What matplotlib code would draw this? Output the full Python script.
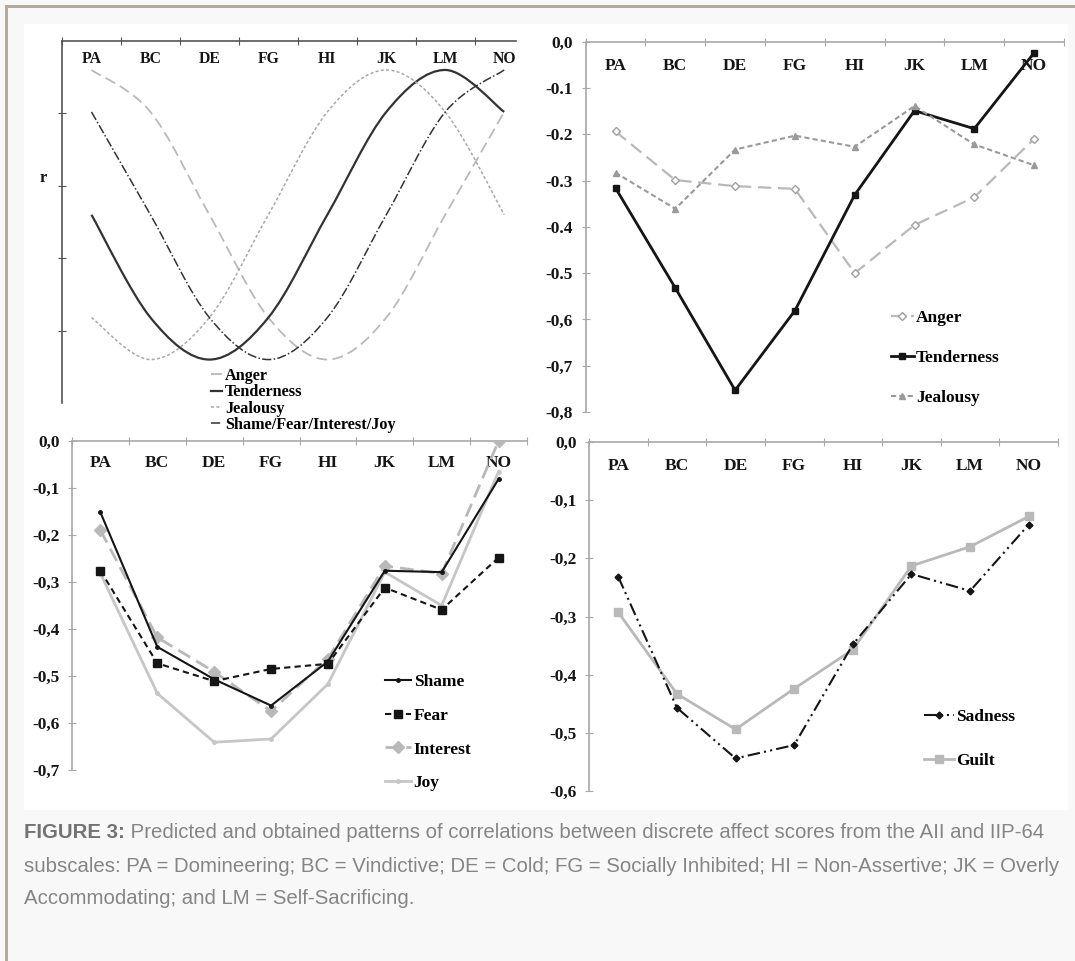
import matplotlib
matplotlib.use("Agg")
import matplotlib.pyplot as plt
from matplotlib.path import Path
from matplotlib.patches import PathPatch, Rectangle
from matplotlib.lines import Line2D
import numpy as np

plt.rcParams['font.family'] = ['Liberation Serif', 'DejaVu Serif']
plt.rcParams['font.weight'] = 'bold'

W, H = 1075, 961

categories = ['PA', 'BC', 'DE', 'FG', 'HI', 'JK', 'LM', 'NO']

# predicted patterns (panel 1)
pred_anger = [1.0, 0.71, 0.0, -0.71, -1.0, -0.71, 0.0, 0.71]
pred_tenderness = [0.0, -0.71, -1.0, -0.71, 0.0, 0.71, 1.0, 0.71]
pred_jealousy = [-0.71, -1.0, -0.71, 0.0, 0.71, 1.0, 0.71, 0.0]
pred_shame = [0.71, 0.0, -0.71, -1.0, -0.71, 0.0, 0.71, 1.0]
pred_ticks = [0.7, 0.2, -0.3, -0.8]

# obtained correlations (panel 2)
anger = [-0.194, -0.299, -0.312, -0.318, -0.500, -0.396, -0.336, -0.210]
tenderness = [-0.316, -0.532, -0.753, -0.581, -0.331, -0.149, -0.188, -0.024]
jealousy = [-0.283, -0.361, -0.233, -0.203, -0.227, -0.139, -0.222, -0.267]
ticks2 = [0.0, -0.1, -0.2, -0.3, -0.4, -0.5, -0.6, -0.7, -0.8]
ticklabels2 = ['0,0', '-0.1', '-0.2', '-0.3', '-0.4', '-0.5', '-0,6', '-0,7', '-0,8']

# panel 3
shame = [-0.152, -0.438, -0.507, -0.563, -0.469, -0.276, -0.279, -0.081]
fear = [-0.276, -0.473, -0.511, -0.485, -0.474, -0.312, -0.359, -0.248]
interest = [-0.190, -0.418, -0.491, -0.575, -0.463, -0.266, -0.282, 0.0]
joy = [-0.282, -0.537, -0.641, -0.634, -0.517, -0.279, -0.350, -0.065]
ticks3 = [0.0, -0.1, -0.2, -0.3, -0.4, -0.5, -0.6, -0.7]
ticklabels3 = ['0,0', '-0,1', '-0,2', '-0,3', '-0,4', '-0,5', '-0,6', '-0,7']

# panel 4
sadness = [-0.232, -0.457, -0.544, -0.521, -0.348, -0.227, -0.256, -0.142]
guilt = [-0.293, -0.433, -0.494, -0.424, -0.357, -0.213, -0.180, -0.128]
ticks4 = [0.0, -0.1, -0.2, -0.3, -0.4, -0.5, -0.6]
ticklabels4 = ['0,0', '-0,1', '-0,2', '-0,3', '-0,4', '-0,5', '-0,6']

caption_bold = 'FIGURE 3:'
caption_lines = [
    ' Predicted and obtained patterns of correlations between discrete affect scores from the AII and IIP-64',
    'subscales: PA = Domineering; BC = Vindictive; DE = Cold; FG = Socially Inhibited; HI = Non-Assertive; JK = Overly',
    'Accommodating; and LM = Self-Sacrificing.',
]

BLACK = '#151515'
LGRAY = '#b9b9b9'
MGRAY = '#9a9a9a'

fig = plt.figure(figsize=(W / 100, H / 100), dpi=100, facecolor='#f8f8f8')

# page frame, kept behind the axes
fig.add_artist(Rectangle((5 / W, 0), 3 / W, 1 - 5 / H, transform=fig.transFigure,
                         color='#b3aba1', lw=0, zorder=-10))
fig.add_artist(Rectangle((5 / W, 1 - 8 / H), 1, 3 / H, transform=fig.transFigure,
                         color='#b3aba1', lw=0, zorder=-10))
fig.add_artist(Rectangle((24 / W, 1 - 810 / H), (1068 - 24) / W, (810 - 24) / H,
                         transform=fig.transFigure, color='white', lw=0, zorder=-10))


def px_axes(x0, y0, x1, y1):
    a = fig.add_axes([x0 / W, 1 - y1 / H, (x1 - x0) / W, (y1 - y0) / H])
    a.patch.set_alpha(0)
    return a


def style_axes(ax, spine_color, nticks, label_size, label_offset):
    for s in ['right', 'bottom']:
        ax.spines[s].set_visible(False)
    for s in ['top', 'left']:
        ax.spines[s].set_color(spine_color)
        ax.spines[s].set_linewidth(1.2)
    ax.xaxis.tick_top()
    ax.set_xticks(range(nticks))
    ax.tick_params(axis='x', which='major', direction='inout', length=6,
                   color=spine_color, labeltop=False)
    ax.tick_params(axis='y', direction='inout', length=6, color=spine_color,
                   pad=6, labelsize=12.5, labelcolor=BLACK)
    for i, c in enumerate(categories):
        ax.annotate(c, xy=(i + 0.5, 1), xycoords=('data', 'axes fraction'),
                    xytext=(0, -label_offset), textcoords='offset points',
                    ha='center', va='center', fontsize=label_size,
                    fontweight='bold', color=BLACK)


def smooth_patch(ax, ys, **kw):
    pts = np.column_stack([np.arange(len(ys)) + 0.5, ys])
    n = len(pts)
    verts = [pts[0]]
    codes = [Path.MOVETO]
    for i in range(n - 1):
        p0 = pts[max(i - 1, 0)]
        p1 = pts[i]
        p2 = pts[i + 1]
        p3 = pts[min(i + 2, n - 1)]
        verts += [p1 + (p2 - p0) / 6, p2 - (p3 - p1) / 6, p2]
        codes += [Path.CURVE4] * 3
    ax.add_patch(PathPatch(Path(verts, codes), fill=False, **kw))


# ---- panel 1: predicted patterns
ax1 = px_axes(62, 41, 516, 403)
ax1.set_xlim(0, 7.7)
ax1.set_ylim(-1.3, 1.2)
style_axes(ax1, '#555555', 8, 11.3, 13)
ax1.set_yticks(pred_ticks)
ax1.set_yticklabels([])
ax1.set_ylabel('r', rotation=0, fontsize=12, fontweight='bold', color=BLACK)
ax1.yaxis.set_label_coords(-0.042, 0.6)

p1_styles = [
    (pred_anger, 'Anger', dict(edgecolor=LGRAY, lw=1.3, linestyle=(0, (6, 3)))),
    (pred_tenderness, 'Tenderness', dict(edgecolor='#333333', lw=1.6, linestyle='-')),
    (pred_jealousy, 'Jealousy', dict(edgecolor='#a8a8a8', lw=1.1, linestyle=(0, (2, 1.5)))),
    (pred_shame, 'Shame/Fear/Interest/Joy', dict(edgecolor='#333333', lw=1.1,
                                                 linestyle=(0, (6, 1.5, 1, 1.5)))),
]
handles = []
for ys, lab, kw in p1_styles:
    smooth_patch(ax1, ys, **kw)
    handles.append(Line2D([], [], color=kw['edgecolor'], lw=kw['lw'],
                          linestyle=kw['linestyle'], label=lab))
ax1.legend(handles=handles, loc='upper left', bbox_to_anchor=(211 / W, 1 - 368 / H),
           bbox_transform=fig.transFigure, frameon=False, fontsize=11.7,
           handlelength=0.7, handletextpad=0.15, labelspacing=0.02,
           borderpad=0, borderaxespad=0)

x8 = np.arange(len(categories)) + 0.5

# ---- panel 2: anger, tenderness, jealousy
ax2 = px_axes(585.6, 41.7, 1064, 412)
ax2.set_xlim(0, 8)
ax2.set_ylim(-0.8, 0)
style_axes(ax2, '#a8a8a8', 9, 12.5, 17.5)
ax2.set_yticks(ticks2)
ax2.set_yticklabels(ticklabels2)
ax2.plot(x8, anger, color=LGRAY, lw=1.6, linestyle=(0, (6, 3)), marker='D', ms=4.5,
         mfc='white', mec='#a0a0a0', mew=1, label='Anger')
ax2.plot(x8, tenderness, color=BLACK, lw=2, marker='s', ms=5, mfc=BLACK, mec=BLACK,
         label='Tenderness')
ax2.plot(x8, jealousy, color=MGRAY, lw=1.5, linestyle=(0, (2.5, 1.5)), marker='^', ms=5,
         mfc=MGRAY, mec=MGRAY, label='Jealousy')
ax2.legend(loc='upper left', bbox_to_anchor=(891 / W, 1 - 310 / H),
           bbox_transform=fig.transFigure, frameon=False, fontsize=12.5,
           handlelength=1.3, handletextpad=0.15, labelspacing=1.37,
           borderpad=0, borderaxespad=0)

# ---- panel 3: shame, fear, interest, joy
ax3 = px_axes(72, 441, 527, 770)
ax3.set_xlim(0, 8)
ax3.set_ylim(-0.7, 0)
style_axes(ax3, '#a8a8a8', 9, 12.5, 16)
ax3.set_yticks(ticks3)
ax3.set_yticklabels(ticklabels3)
ax3.plot(x8, joy, color='#c6c6c6', lw=2, marker='o', ms=2.5, label='Joy', zorder=2)
ax3.plot(x8, interest, color=LGRAY, lw=2, linestyle=(0, (5, 2.5)), marker='D', ms=6,
         mfc=LGRAY, mec=LGRAY, label='Interest', zorder=3)
ax3.plot(x8, fear, color=BLACK, lw=1.5, linestyle=(0, (3, 2)), marker='s', ms=6,
         label='Fear', zorder=4)
ax3.plot(x8, shame, color=BLACK, lw=1.5, marker='o', ms=2.5, label='Shame', zorder=5)
h3, l3 = ax3.get_legend_handles_labels()
order = ['Shame', 'Fear', 'Interest', 'Joy']
h3 = [h3[l3.index(k)] for k in order]
ax3.legend(h3, order, loc='upper left', bbox_to_anchor=(385 / W, 1 - 674 / H),
           bbox_transform=fig.transFigure, frameon=False, fontsize=12.5,
           handlelength=1.5, handletextpad=0.15, labelspacing=1.01,
           borderpad=0, borderaxespad=0)

# ---- panel 4: sadness, guilt
ax4 = px_axes(589, 442, 1058, 791)
ax4.set_xlim(0, 8)
ax4.set_ylim(-0.6, 0)
style_axes(ax4, '#a8a8a8', 9, 12.5, 17)
ax4.set_yticks(ticks4)
ax4.set_yticklabels(ticklabels4)
ax4.plot(x8, guilt, color=LGRAY, lw=2, marker='s', ms=6, mfc=LGRAY, mec=LGRAY,
         label='Guilt', zorder=2)
ax4.plot(x8, sadness, color=BLACK, lw=1.5, linestyle=(0, (6, 2, 1, 2, 1, 2)),
         marker='D', ms=3.5, label='Sadness', zorder=3)
h4, l4 = ax4.get_legend_handles_labels()
ax4.legend(h4[::-1], l4[::-1], loc='upper left', bbox_to_anchor=(924 / W, 1 - 709 / H),
           bbox_transform=fig.transFigure, frameon=False, fontsize=12.5,
           handlelength=1.7, handletextpad=0.15, labelspacing=1.59,
           borderpad=0, borderaxespad=0)

# ---- caption
cap_kw = dict(fontsize=14.7, family=['Liberation Sans', 'DejaVu Sans'], va='center')
t0 = fig.text(24 / W, 1 - 833 / H, caption_bold, fontweight='bold', color='#737373', **cap_kw)
fig.add_artist(plt.Annotation(caption_lines[0], xy=(1, 0.5), xycoords=t0,
                              ha='left', fontweight='normal', color='#858585', **cap_kw))
for k, line in enumerate(caption_lines[1:]):
    fig.text(24 / W, 1 - (866 + 32.5 * k) / H, line, fontweight='normal',
             color='#858585', **cap_kw)

fig.savefig('out.png', dpi=100, facecolor=fig.get_facecolor())
